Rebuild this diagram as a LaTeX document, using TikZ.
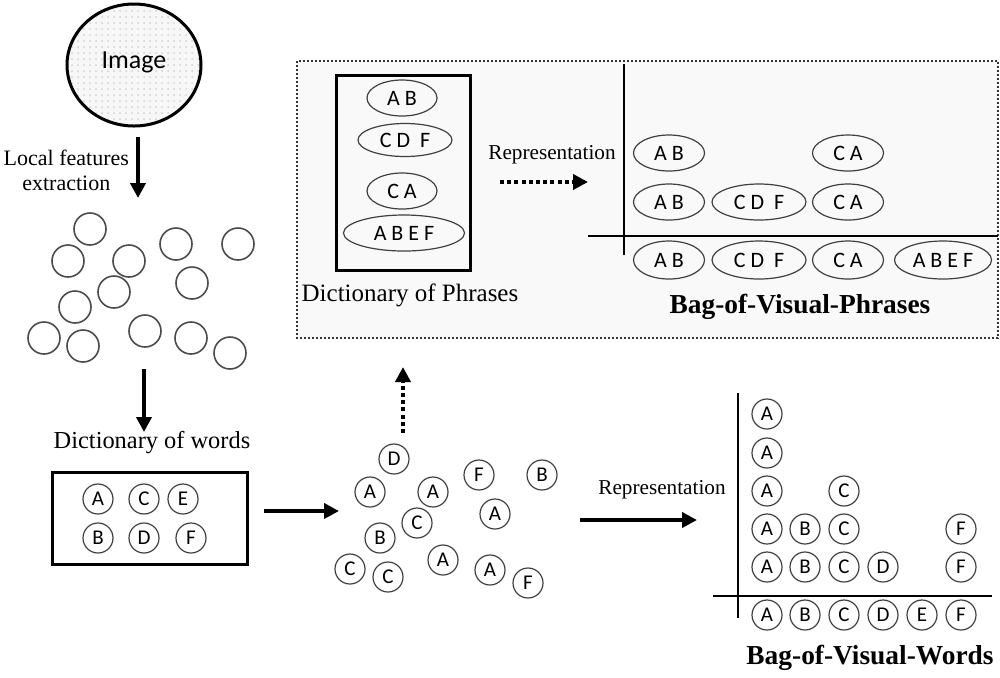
\documentclass[tikz,border=0pt]{standalone}
\usepackage{fontspec}
\setmainfont{Liberation Serif}
\newfontfamily\letterfont{Carlito}
\usetikzlibrary{arrows.meta,patterns,shapes.geometric}

\tikzset{
  feat/.style={circle,draw=black!70,line width=0.8pt,minimum size=16pt,inner sep=0pt},
  word/.style={circle,draw=black!75,line width=0.6pt,minimum size=15pt,inner sep=0pt,
    font=\letterfont\fontsize{10.5}{10}\selectfont},
  phrase/.style={ellipse,draw=black!75,line width=0.6pt,minimum height=18pt,inner sep=0pt,
    font=\letterfont\fontsize{11}{11}\selectfont},
  bigarrow/.style={line width=2pt,-{Triangle[length=7.5pt,width=7.5pt]}},
  dotarrow/.style={line width=2pt,dash pattern=on 2pt off 1.6pt,-{Triangle[length=7.5pt,width=7.5pt]}},
  axisline/.style={line width=1.3pt},
  dictbox/.style={draw,line width=1.5pt,inner sep=0pt},
  caption/.style={font=\fontsize{12.2}{14}\selectfont},
  reprlabel/.style={font=\fontsize{10.6}{12}\selectfont},
  bagtitle/.style={font=\bfseries\fontsize{13.7}{15}\selectfont}
}

\begin{document}
\begin{tikzpicture}[x=0.5pt,y=-0.5pt]
  \useasboundingbox (0,0) rectangle (1000,677);

  % phrases panel
  \draw [black!80, line width=1pt, densely dotted, fill=gray!5] (297,61) rectangle (998,338);

  % image and local features
  \node (img) at (134,65) [ellipse, draw, line width=1.5pt, minimum width=67pt, minimum height=61pt,
    preaction={fill=gray!6}, pattern=dots, pattern color=gray!35] {};
  \node (imgtext) at (134,62) [font=\letterfont\fontsize{13}{13}\selectfont] {Image};
  \coordinate (lfA) at (138,137);
  \coordinate (lfB) at (138,198);
  \draw [bigarrow] (lfA) -- (lfB);
  \node (lflabel) at (136,170) [anchor=east, align=center, font=\fontsize{11}{12.5}\selectfont]
    {Local features\\extraction};

  \node (f1) at (90,229) [feat] {};
  \node (f2) at (68,261) [feat] {};
  \node (f3) at (129,261) [feat] {};
  \node (f4) at (176,244) [feat] {};
  \node (f5) at (238,244) [feat] {};
  \node (f6) at (114,292) [feat] {};
  \node (f7) at (192,283) [feat] {};
  \node (f8) at (75,307) [feat] {};
  \node (f9) at (44,338) [feat] {};
  \node (f10) at (83,346) [feat] {};
  \node (f11) at (145,331) [feat] {};
  \node (f12) at (191,338) [feat] {};
  \node (f13) at (230,353) [feat] {};

  \coordinate (dwA) at (144,369);
  \coordinate (dwB) at (144,432);
  \draw [bigarrow] (dwA) -- (dwB);

  % dictionary of words
  \node (dwlabel) at (152,443) [caption] {Dictionary of words};
  \node (dw) at (149.5,518) [dictbox, minimum width=97.5pt, minimum height=46pt] {};
  \node (dwa) at (98,499) [word] {A};
  \node (dwc) at (144,499) [word] {C};
  \node (dwe) at (183,499) [word] {E};
  \node (dwb) at (98,538) [word] {B};
  \node (dwd) at (144,538) [word] {D};
  \node (dwf) at (191,538) [word] {F};

  \coordinate (scIn) at (339,511);
  \draw [bigarrow, shorten <=7.5pt] (dw.east |- scIn) -- (scIn);

  % words found in the image
  \node (s1) at (394,459) [word] {D};
  \node (s2) at (370,492) [word] {A};
  \node (s3) at (433,492) [word] {A};
  \node (s4) at (479,475) [word] {F};
  \node (s5) at (542,475) [word] {B};
  \node (s6) at (417,523) [word] {C};
  \node (s7) at (495,514) [word] {A};
  \node (s8) at (380,538) [word] {B};
  \node (s9) at (350,569) [word] {C};
  \node (s10) at (388,577) [word] {C};
  \node (s11) at (443,560) [word] {A};
  \node (s12) at (490,570) [word] {A};
  \node (s13) at (528,583) [word] {F};

  \coordinate (upA) at (403,433);
  \coordinate (upB) at (403,367);
  \draw [dotarrow] (upA) -- (upB);

  % dictionary of phrases
  \node (dp) at (403,172.5) [dictbox, minimum width=67pt, minimum height=97.5pt] {};
  \node (dp1) at (402,98) [phrase, minimum width=35pt] {A B};
  \node (dp2) at (405,140) [phrase, minimum width=47pt, minimum height=16.5pt] {C D\ \ F};
  \node (dp3) at (402,191) [phrase, minimum width=35pt] {C A};
  \node (dp4) at (404,233) [phrase, minimum width=60.5pt] {A B E F};
  \node (dplabel) at (410,295) [font=\fontsize{12.5}{14}\selectfont] {Dictionary of Phrases};

  \node (prepr) at (552,155) [reprlabel] {Representation};
  \coordinate (ppA) at (500,182);
  \coordinate (ppB) at (588,182);
  \draw [dotarrow] (ppA) -- (ppB);

  % bag of visual phrases
  \coordinate (pvTop) at (624,64);
  \coordinate (pvBot) at (624,255);
  \coordinate (phL) at (588,236);
  \coordinate (phR) at (998,236);
  \draw [axisline] (pvTop) -- (pvBot);
  \draw [axisline] (phL) -- (phR);

  \node (pb1) at (669,260) [phrase, minimum width=35.5pt, minimum height=19pt] {A B};
  \node (pb2) at (759,260) [phrase, minimum width=47pt, minimum height=19pt] {C D\ \ F};
  \node (pb3) at (848,260) [phrase, minimum width=35.5pt, minimum height=19pt] {C A};
  \node (pb4) at (943,260) [phrase, minimum width=48.5pt, minimum height=19pt] {A B E F};
  \node (pr1) at (669,202) [phrase, minimum width=35.5pt] {A B};
  \node (pr2) at (759,202) [phrase, minimum width=47pt] {C D\ \ F};
  \node (pr3) at (848,202) [phrase, minimum width=35.5pt] {C A};
  \node (pt1) at (669,153) [phrase, minimum width=35.5pt] {A B};
  \node (pt3) at (848,153) [phrase, minimum width=35.5pt] {C A};
  \node (bovp) at (800,307) [bagtitle] {Bag-of-Visual-Phrases};

  % bag of visual words
  \node (wrepr) at (662,490) [reprlabel] {Representation};
  \coordinate (wwA) at (580,520);
  \coordinate (wwB) at (697,520);
  \draw [bigarrow] (wwA) -- (wwB);

  \coordinate (wvTop) at (738,393);
  \coordinate (wvBot) at (738,618);
  \coordinate (whL) at (713,596);
  \coordinate (whR) at (992,596);
  \draw [axisline] (wvTop) -- (wvBot);
  \draw [axisline] (whL) -- (whR);

  \node (wb1) at (767,615) [word] {A};
  \node (wb2) at (805,615) [word] {B};
  \node (wb3) at (844,615) [word] {C};
  \node (wb4) at (883,615) [word] {D};
  \node (wb5) at (922,615) [word] {E};
  \node (wb6) at (961,615) [word] {F};

  \node (wa1) at (767,567) [word] {A};
  \node (wa2) at (767,529) [word] {A};
  \node (wa3) at (767,491) [word] {A};
  \node (wa4) at (767,453) [word] {A};
  \node (wa5) at (767,414) [word] {A};
  \node (wbb1) at (805,567) [word] {B};
  \node (wbb2) at (805,529) [word] {B};
  \node (wc1) at (844,567) [word] {C};
  \node (wc2) at (844,529) [word] {C};
  \node (wc3) at (844,491) [word] {C};
  \node (wd1) at (883,567) [word] {D};
  \node (wf1) at (961,567) [word] {F};
  \node (wf2) at (961,529) [word] {F};
  \node (bovw) at (870,658) [bagtitle] {Bag-of-Visual-Words};
\end{tikzpicture}
\end{document}
